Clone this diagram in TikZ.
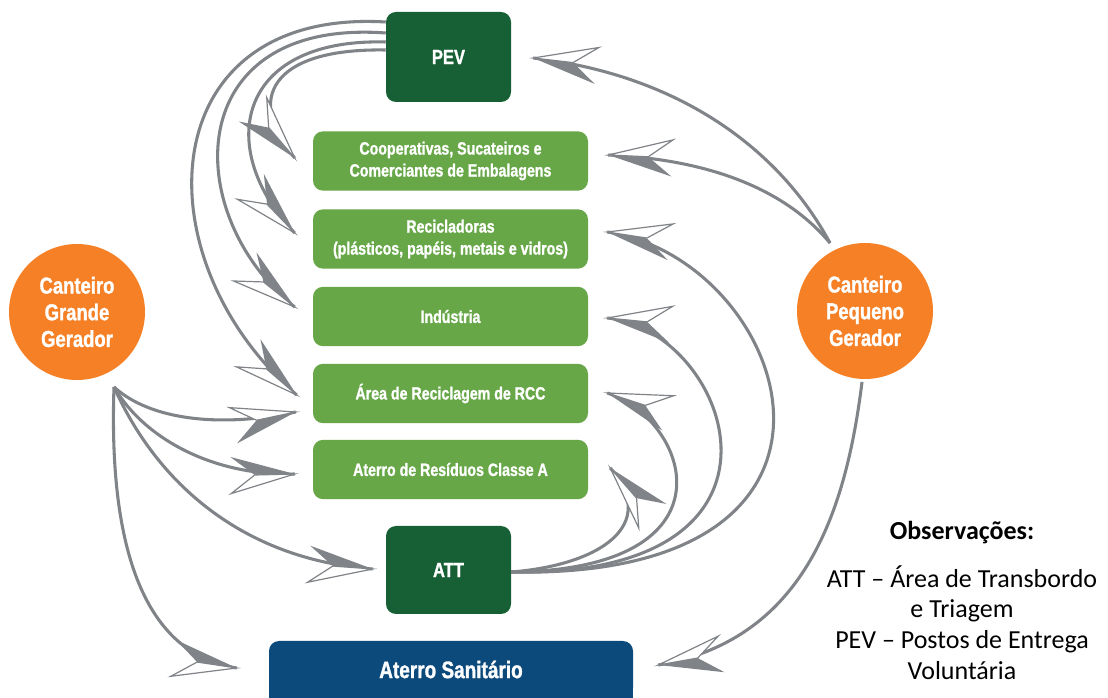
\documentclass[tikz,border=0pt]{standalone}
\usepackage{fontspec}
\usetikzlibrary{decorations.markings,calc}
\newfontfamily\condf[FakeStretch=0.8,BoldFeatures={FakeBold=1.2}]{Liberation Sans}
\newfontfamily\obsf{Carlito}
\definecolor{dgreen}{HTML}{175F34}
\definecolor{lgreen}{HTML}{67A748}
\definecolor{orng}{HTML}{F68026}
\definecolor{sblue}{HTML}{0C4A7B}
\definecolor{agray}{HTML}{808387}
\tikzset{
  dbox/.style={fill=dgreen,rounded corners=7.5pt,minimum width=93.75pt,text=white,inner sep=0pt,
    font=\condf\bfseries\fontsize{15.5}{18}\selectfont},
  gbox/.style={fill=lgreen,rounded corners=7.5pt,minimum width=206.25pt,minimum height=44.5pt,text=white,
    inner sep=0pt,align=center,font=\condf\bfseries\fontsize{13.3}{16.5}\selectfont},
  circ/.style={circle,fill=orng,minimum size=102pt,text=white,inner sep=0pt,align=center,
    font=\condf\bfseries\fontsize{17.3}{20}\selectfont},
  conn/.style={draw=agray,line width=2.3pt},
  headL/.style={postaction=decorate,decoration={markings,mark=at position 0.9999 with {
    \fill[agray] (0pt,0pt)--(-48pt,14pt)--(-30pt,0pt)--cycle;
    \filldraw[fill=white,draw=agray,line width=0.9pt,line join=miter] (0pt,0pt)--(-48pt,-13.5pt)--(-30pt,0pt)--cycle;}}},
  headR/.style={postaction=decorate,decoration={markings,mark=at position 0.9999 with {
    \fill[agray] (0pt,0pt)--(-48pt,-14pt)--(-30pt,0pt)--cycle;
    \filldraw[fill=white,draw=agray,line width=0.9pt,line join=miter] (0pt,0pt)--(-48pt,13.5pt)--(-30pt,0pt)--cycle;}}},
}
\begin{document}
\begin{tikzpicture}[x=0.75pt,y=-0.75pt]
\useasboundingbox (0,0) rectangle (1108,698);

% nodes
\node[dbox,minimum height=67.5pt] (pev) at (448.5,57) {PEV};
\node[gbox] (coop) at (450.5,161) {Cooperativas, Sucateiros e\\Comerciantes de Embalagens};
\node[gbox] (recic) at (450.5,239) {Recicladoras\\(plásticos, papéis, metais e vidros)};
\node[gbox] (ind) at (450.5,316.5) {Indústria};
\node[gbox] (area) at (450.5,393.5) {Área de Reciclagem de RCC};
\node[gbox] (aterro) at (450.5,469.5) {Aterro de Resíduos Classe A};
\node[dbox,minimum height=66pt] (att) at (448.5,570) {ATT};
\fill[sblue] (269,680) rectangle (633,698);
\node[fill=sblue,rounded corners=7.5pt,minimum width=273pt,minimum height=42.75pt,inner sep=0pt,text=white,
  font=\condf\bfseries\fontsize{17.8}{20}\selectfont] (sanit) at (451,669.5) {Aterro Sanitário};
\node[circ] (cg) at (77,312) {Canteiro\\Grande\\Gerador};
\node[circ] (cp) at (865,311) {Canteiro\\Pequeno\\Gerador};
\node[inner sep=0pt,font=\obsf\bfseries\fontsize{19.5}{23}\selectfont] (obs) at (962,533) {Observações:};
\node[inner sep=0pt,align=center,font=\obsf\fontsize{19.5}{23}\selectfont] (obsbody) at (962,622.5)
  {ATT – Área de Transbordo\\e Triagem\\PEV – Postos de Entrega\\Voluntária};

% PEV -> boxes
\draw[conn,headR] ($(pev.west)+(0,-7)$) .. controls (270,48) and (245,100) .. ($(coop.west)+(-18,-3)$);
\draw[conn,headL] ($(pev.west)+(0,-15)$) .. controls (235,38) and (215,150) .. ($(recic.west)+(-18,-6)$);
\draw[conn,headL] ($(pev.west)+(0,-24)$) .. controls (180,18) and (180,215) .. ($(ind.west)+(-18,-9.5)$);
\draw[conn,headL] ($(pev.west)+(0,-35)$) .. controls (150,8) and (140,260) .. ($(area.west)+(-16,1.5)$);

% Canteiro Grande Gerador
\draw[conn,headR] ($(cg.center)+(37,75)$) .. controls (150,420) and (220,428) .. ($(area.west)+(-17,18.5)$);
\draw[conn,headL] ($(cg.center)+(37,75)$) .. controls (145,440) and (215,476) .. ($(aterro.west)+(-18,4.5)$);
\draw[conn,headL] ($(cg.center)+(37,75)$) .. controls (160,490) and (250,560) .. ($(att.west)+(-13,-1)$);
\draw[conn,headL] ($(cg.center)+(37,75)$) .. controls (108,560) and (150,655) .. ($(sanit.west)+(-32,-1.5)$);

% Canteiro Pequeno Gerador
\draw[conn,headL] ($(cp.center)+(-35,-68)$) .. controls (780,150) and (680,75) .. ($(pev.east)+(22,1)$);
\draw[conn,headL] ($(cp.center)+(-35,-68)$) .. controls (790,195) and (720,160) .. ($(coop.east)+(20,-6)$);
\draw[conn,headL] ($(cp.center)+(-3,71)$) .. controls (845,520) and (800,640) .. ($(sanit.east)+(25,-4.5)$);

% ATT -> boxes
\draw[conn,headR] ($(att.east)+(0,2)$) .. controls (600,565) and (660,525) .. ($(aterro.east)+(22,-1.5)$);
\draw[conn,headL] ($(att.east)+(0,2)$) .. controls (740,570) and (690,420) .. ($(area.east)+(19,-0.5)$);
\draw[conn,headL] ($(att.east)+(0,2)$) .. controls (820,578) and (730,330) .. ($(ind.east)+(19,1.5)$);
\draw[conn,headL] ($(att.east)+(0,2)$) .. controls (900,580) and (790,260) .. ($(recic.east)+(19,-7)$);
\end{tikzpicture}
\end{document}
